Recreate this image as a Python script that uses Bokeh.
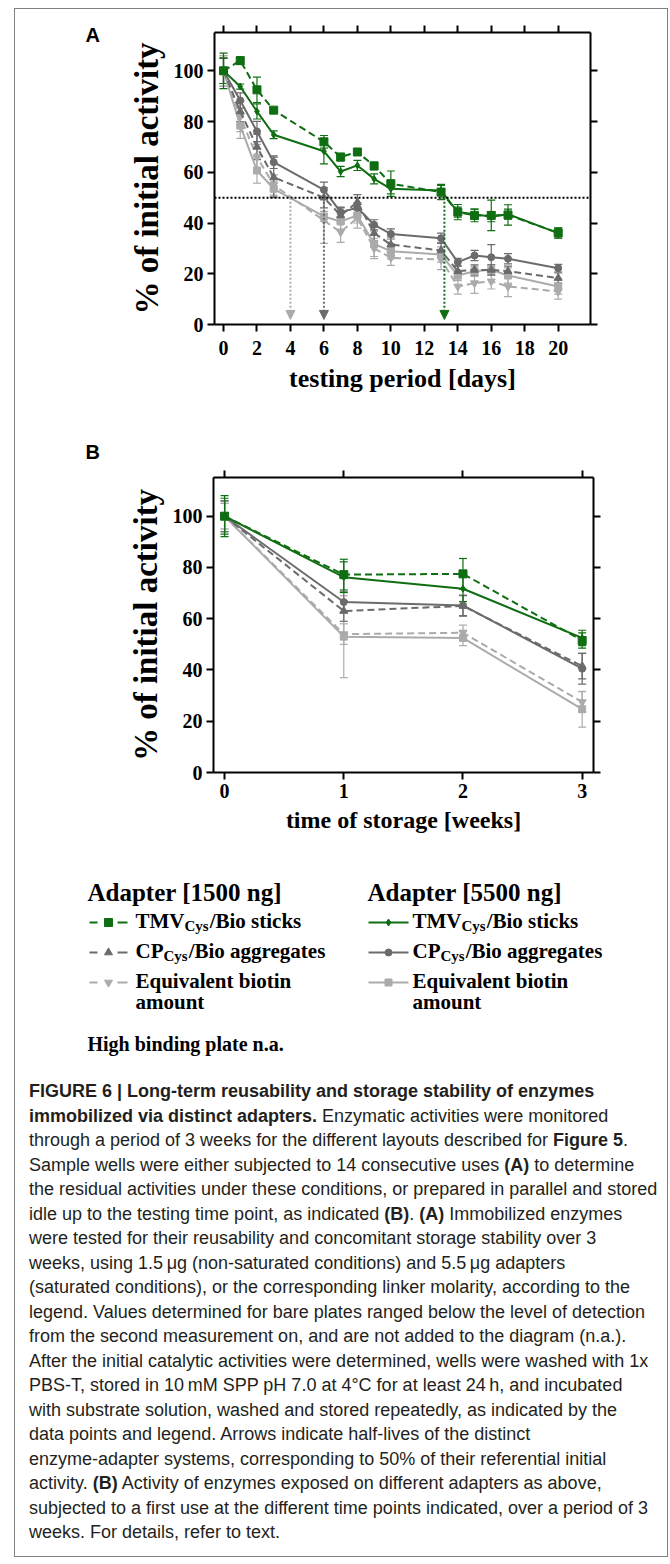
from bokeh.plotting import figure
from bokeh.models import (Range1d, LinearAxis, FixedTicker, Whisker, TeeHead, Span,
                          Arrow, NormalHead, ColumnDataSource, Div)
from bokeh.layouts import column, row
from bokeh.core.properties import value
from bokeh.embed import file_html
from bokeh.resources import INLINE

# ---------------- data: panel A (reusability) ----------------
days = [0, 1, 2, 3, 6, 7, 8, 9, 10, 13, 14, 15, 16, 17, 20]
day_ticks = [0, 2, 4, 6, 8, 10, 12, 14, 16, 18, 20]
pct_ticks = [0, 20, 40, 60, 80, 100]

a_tmv1500 = [100, 104, 92.5, 84.5, 72, 66, 68, 62.5, 55.5, 52.2, 44.3, 43, 43, 43.2, 36.1]
a_tmv1500_err = [7, 1.5, 5, 1, 2.5, 1.5, 1, 1.5, 5, 3, 3, 2.5, 6, 4, 2]
a_tmv5500 = [100, 93.8, 84, 74.8, 68.3, 60.3, 62.7, 57.4, 53.5, 52.8, 44.3, 43.5, 42.5, 43.5, 36]
a_tmv5500_err = [5, 1, 3, 1.5, 5, 2, 2, 2, 2, 2, 2, 2, 2, 2, 2]
a_cp5500 = [100, 88.3, 76.1, 64, 53.1, 44.3, 46, 39.3, 35.7, 34, 24.6, 27.2, 26.5, 25.9, 22.2]
a_cp5500_err = [5, 3, 4, 2.5, 3, 2, 2, 2, 2, 2, 1.5, 2, 5, 2, 1.5]
a_cp1500 = [100, 84, 70, 58, 50, 43, 48.2, 36, 31.5, 29.2, 21, 21.5, 21.5, 21, 18.3]
a_cp1500_err = [5, 4, 5, 8, 4, 3, 3, 3, 3, 3, 2, 2, 2, 2, 2]
a_bio5500 = [100, 78.4, 60.7, 53.5, 42.6, 40.6, 43, 31.8, 28.9, 27.6, 19.3, 21, 21.6, 19.3, 15]
a_bio5500_err = [6, 5, 5, 3, 2, 3, 3, 5, 3, 3, 2, 2, 2, 3, 3]
a_bio1500 = [100, 82, 66, 55, 41, 36.4, 42, 30, 26.3, 25.6, 15, 16.3, 17, 15, 13]
a_bio1500_err = [6, 6, 5, 4, 9, 4, 4, 4, 3, 4, 3, 4, 3, 4, 3]

halflife_days = [4, 6, 13.2]
halflife_level = 50
arrow_tip = 2

# ---------------- data: panel B (storage) ----------------
weeks = [0, 1, 2, 3]
week_ticks = [0, 1, 2, 3]
b_tmv1500 = [100, 77.2, 77.5, 51.5]
b_tmv1500_err = [8, 6, 6, 3]
b_tmv5500 = [100, 76.2, 71.7, 52.5]
b_tmv5500_err = [7, 6, 5, 3]
b_cp5500 = [100, 66.5, 65.2, 40.5]
b_cp5500_err = [6, 4, 4, 6]
b_cp1500 = [100, 63, 65, 41.5]
b_cp1500_err = [6, 4, 4, 5]
b_bio5500 = [100, 53, 52.5, 24.7]
b_bio5500_err = [5, 16, 3, 7]
b_bio1500 = [100, 54, 54.5, 27.5]
b_bio1500_err = [5, 4, 3, 4]

# ---------------- texts ----------------
panel_letters = ["A", "B"]
y_title = "% of initial activity"
xa_title = "testing period [days]"
xb_title = "time of storage [weeks]"
legend_headers = ["Adapter [1500 ng]", "Adapter [5500 ng]"]
legend_main = ["TMV", "CP", "Equivalent biotin"]
legend_sub = ["Cys", "Cys", ""]
legend_rest = ["/Bio sticks", "/Bio aggregates", ""]
legend_wrap = ["", "", "amount"]
note_text = "High binding plate n.a."
caption_lines = [
    "<b>FIGURE 6 | Long-term reusability and storage stability of enzymes</b>",
    "<b>immobilized via distinct adapters.</b> Enzymatic activities were monitored",
    "through a period of 3 weeks for the different layouts described for <b>Figure 5</b>.",
    "Sample wells were either subjected to 14 consecutive uses <b>(A)</b> to determine",
    "the residual activities under these conditions, or prepared in parallel and stored",
    "idle up to the testing time point, as indicated <b>(B)</b>. <b>(A)</b> Immobilized enzymes",
    "were tested for their reusability and concomitant storage stability over 3",
    "weeks, using 1.5\u2009\u03bcg (non-saturated conditions) and 5.5\u2009\u03bcg adapters",
    "(saturated conditions), or the corresponding linker molarity, according to the",
    "legend. Values determined for bare plates ranged below the level of detection",
    "from the second measurement on, and are not added to the diagram (n.a.).",
    "After the initial catalytic activities were determined, wells were washed with 1x",
    "PBS-T, stored in 10\u2009mM SPP pH 7.0 at 4\u00b0C for at least 24\u2009h, and incubated",
    "with substrate solution, washed and stored repeatedly, as indicated by the",
    "data points and legend. Arrows indicate half-lives of the distinct",
    "enzyme-adapter systems, corresponding to 50% of their referential initial",
    "activity. <b>(B)</b> Activity of enzymes exposed on different adapters as above,",
    "subjected to a first use at the different time points indicated, over a period of 3",
    "weeks. For details, refer to text.",
]

# ---------------- styles ----------------
SERIF = "Liberation Serif"
SANS = "Liberation Sans"
GREEN = "#0f6e12"
DARK = "#6b6b6b"
LIGHT = "#ababab"
DASH = "7 4"
STY = {
    "bio1500": dict(color=LIGHT, dash=DASH, marker="inverted_triangle", size=8),
    "bio5500": dict(color=LIGHT, dash="solid", marker="square", size=7),
    "cp1500": dict(color=DARK, dash=DASH, marker="triangle", size=8),
    "cp5500": dict(color=DARK, dash="solid", marker="circle", size=7),
    "tmv1500": dict(color=GREEN, dash=DASH, marker="square", size=8),
    "tmv5500": dict(color=GREEN, dash="solid", marker="diamond", size=7),
}
W = 652        # inner width of the bordered box
LW = 100       # width of the strip holding the panel letter
TDY = -8       # baseline correction for text glyphs


def style_axis(ax, ticks, labels=True, standoff=4):
    ax.ticker = FixedTicker(ticks=ticks, minor_ticks=[])
    ax.axis_line_width = 2
    ax.axis_line_color = "black"
    ax.major_tick_line_width = 2
    ax.major_tick_line_color = "black"
    ax.major_tick_in = 0
    ax.major_tick_out = 7
    ax.minor_tick_line_color = None
    ax.major_label_text_font = SERIF
    ax.major_label_text_font_style = "bold"
    ax.major_label_text_color = "black"
    if labels:
        ax.major_label_text_font_size = "20px"
        ax.major_label_standoff = standoff
    else:
        ax.major_label_text_font_size = "0px"
        ax.major_label_text_color = None
        ax.major_label_standoff = 0


def chart(height, fl, ft, fw, fh, xr, xticks, xlabel, xlabel_size, xstandoff):
    w = W - LW
    p = figure(width=w, height=height, output_backend="svg", toolbar_location=None,
               x_range=Range1d(*xr), y_range=Range1d(0, 115.1),
               min_border_left=fl - LW, min_border_top=ft,
               min_border_right=W - fl - fw, min_border_bottom=height - ft - fh,
               frame_align=False)
    p.grid.visible = False
    p.outline_line_color = None
    style_axis(p.xaxis[0], xticks, standoff=xstandoff)
    style_axis(p.yaxis[0], pct_ticks)
    p.xaxis.axis_label = xlabel
    p.yaxis.axis_label = y_title
    for ax, size in ((p.xaxis[0], xlabel_size), (p.yaxis[0], "33px")):
        ax.axis_label_text_font = SERIF
        ax.axis_label_text_font_style = "bold"
        ax.axis_label_text_font_size = size
        ax.axis_label_text_color = "black"
        ax.axis_label_standoff = 6
    top = LinearAxis()
    style_axis(top, xticks, labels=False)
    p.add_layout(top, "above")
    right = LinearAxis()
    style_axis(right, pct_ticks, labels=False)
    p.add_layout(right, "right")
    return p


def letter_strip(height, letter, lx, ly):
    f = figure(width=LW, height=height, output_backend="svg", toolbar_location=None,
               x_range=Range1d(0, LW), y_range=Range1d(height, 0),
               x_axis_type=None, y_axis_type=None, min_border=0, frame_align=False)
    f.grid.visible = False
    f.outline_line_color = None
    f.text(x=[lx], y=[ly + TDY], text=[letter], text_font=value(SANS),
           text_font_style="bold", text_font_size="20px", text_color="black",
           text_baseline="alphabetic", text_align="left")
    return f


def add_series(p, xs, ys, errs, st):
    src = ColumnDataSource(dict(x=xs, y=ys,
                                lo=[y - e for y, e in zip(ys, errs)],
                                hi=[y + e for y, e in zip(ys, errs)]))
    c = st["color"]
    p.add_layout(Whisker(source=src, base="x", lower="lo", upper="hi",
                         line_color=c, line_width=1.2,
                         upper_head=TeeHead(size=8, line_color=c, line_width=1.2),
                         lower_head=TeeHead(size=8, line_color=c, line_width=1.2)))
    p.line("x", "y", source=src, line_color=c, line_width=2, line_dash=st["dash"])
    p.scatter("x", "y", source=src, marker=st["marker"], size=st["size"],
              fill_color=c, line_color=c)


# ---------------- panel A ----------------
HA = 411
pA = chart(HA, 199, 23, 376, 292, (-0.538, 21.93), day_ticks, xa_title, "26px", 9)
pA.add_layout(Span(location=halflife_level, dimension="width", line_color="black",
                   line_dash="2 2", line_width=2))
a_sets = [(a_bio1500, a_bio1500_err, "bio1500"), (a_bio5500, a_bio5500_err, "bio5500"),
          (a_cp1500, a_cp1500_err, "cp1500"), (a_cp5500, a_cp5500_err, "cp5500"),
          (a_tmv1500, a_tmv1500_err, "tmv1500"), (a_tmv5500, a_tmv5500_err, "tmv5500")]
for ys, es, key in a_sets:
    add_series(pA, days, ys, es, STY[key])
for hx, col in zip(halflife_days, [LIGHT, DARK, GREEN]):
    pA.add_layout(Arrow(x_start=hx, y_start=halflife_level, x_end=hx, y_end=arrow_tip,
                        line_color=col, line_width=2, line_dash="2 2",
                        end=NormalHead(size=9, fill_color=col, line_color=col)))
rowA = row(letter_strip(HA, panel_letters[0], 70, 33), pA, spacing=0)

# ---------------- panel B ----------------
HB = 420
pB = chart(HB, 198, 57, 380, 295, (-0.093, 3.095), week_ticks, xb_title, "24px", 4)
b_sets = [(b_bio1500, b_bio1500_err, "bio1500"), (b_bio5500, b_bio5500_err, "bio5500"),
          (b_cp1500, b_cp1500_err, "cp1500"), (b_cp5500, b_cp5500_err, "cp5500"),
          (b_tmv1500, b_tmv1500_err, "tmv1500"), (b_tmv5500, b_tmv5500_err, "tmv5500")]
for ys, es, key in b_sets:
    add_series(pB, weeks, ys, es, STY[key])
rowB = row(letter_strip(HB, panel_letters[1], 70, 39), pB, spacing=0)

# ---------------- legend ----------------
LH = 239
leg = figure(width=W, height=LH, output_backend="svg", toolbar_location=None,
             x_range=Range1d(0, W), y_range=Range1d(LH, 0),
             x_axis_type=None, y_axis_type=None, min_border=0, frame_align=False)
leg.grid.visible = False
leg.outline_line_color = None

TB = {"T": 0.667, "M": 0.944, "V": 0.722, "C": 0.722, "P": 0.611, "y": 0.5, "s": 0.389}


def tw(s, size):
    return sum(TB.get(ch, 0.5) for ch in s) * size


def ltext(x, y, t, size):
    leg.text(x=[x], y=[y + TDY], text=[t], text_font=value(SERIF), text_font_style="bold",
             text_font_size=size, text_color="black", text_baseline="alphabetic",
             text_align="left")


header_x = [72, 352]
sym_x = [(74, 112), (353, 393)]
text_x = [120, 397]
row_base = [88, 118, 148]
cols = [["tmv1500", "cp1500", "bio1500"], ["tmv5500", "cp5500", "bio5500"]]
MAIN, SUB = 21, 15
for ci in range(2):
    ltext(header_x[ci], 60, legend_headers[ci], "25px")
    for ri in range(3):
        st = STY[cols[ci][ri]]
        yb = row_base[ri]
        ym = yb - 6
        x0, x1 = sym_x[ci]
        if st["dash"] == "solid":
            leg.line(x=[x0, x1], y=[ym, ym], line_color=st["color"], line_width=2)
        else:
            leg.segment(x0=[x0, x1 - 10], y0=[ym, ym], x1=[x0 + 8, x1], y1=[ym, ym],
                        line_color=st["color"], line_width=2)
        leg.scatter(x=[(x0 + x1) / 2], y=[ym], marker=st["marker"], size=st["size"],
                    fill_color=st["color"], line_color=st["color"])
        tx = text_x[ci]
        ltext(tx, yb, legend_main[ri], f"{MAIN}px")
        if legend_sub[ri]:
            sx = tx + tw(legend_main[ri], MAIN)
            ltext(sx, yb + 5, legend_sub[ri], f"{SUB}px")
            ltext(sx + tw(legend_sub[ri], SUB) + 1, yb, legend_rest[ri], f"{MAIN}px")
        if legend_wrap[ri]:
            ltext(tx, yb + 21, legend_wrap[ri], f"{MAIN}px")
ltext(72, 211, note_text, "20px")

# ---------------- caption ----------------
cap_html = ('<div style="font-family:\'Liberation Sans\',Arial,sans-serif;font-size:18px;'
            'line-height:24.5px;color:#231f20;padding-left:14px;white-space:nowrap;">'
            + "<br>".join(caption_lines) + "</div>")
cap = Div(text=cap_html, width=W, height=477, margin=(0, 0, 0, 0))

layout = column(rowA, rowB, leg, cap, spacing=0, margin=(8, 0, 0, 14),
                styles={"border": "1px solid #808080"})

open("out.html", "w").write(file_html(layout, INLINE))
